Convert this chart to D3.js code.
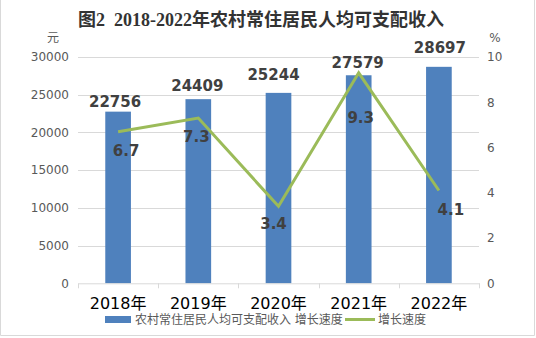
<!DOCTYPE html>
<html>
<head>
<meta charset="utf-8">
<script src="https://cdn.jsdelivr.net/npm/d3@7/dist/d3.min.js"></script>
<style>
  html, body { margin: 0; padding: 0; background: #fff; }
  svg { display: block; }
</style>
</head>
<body>
<svg id="chart" width="536" height="338"></svg>
<script>
// Data
const years = ["2018年", "2019年", "2020年", "2021年", "2022年"];
const income = [22756, 24409, 25244, 27579, 28697];
const growth = [6.7, 7.3, 3.4, 9.3, 4.1];
const leftTicks = [0, 5000, 10000, 15000, 20000, 25000, 30000];
const rightTicks = [0, 2, 4, 6, 8, 10];

const title = "图2  2018-2022年农村常住居民人均可支配收入";
const seriesNames = ["农村常住居民人均可支配收入 增长速度", "增长速度"];

// Layout
const W = 536, H = 338;
const plot = { left: 78, right: 479, top: 57, bottom: 283.3 };
const barColor = "#4f81bd", lineColor = "#9bbb59";
const labelColor = "#404040", axisColor = "#595959", gridColor = "#d9d9d9";
const baseFont = "'DejaVu Sans', 'Noto Sans CJK SC', sans-serif";

const svg = d3.select("#chart");

// chart frame
svg.append("path")
  .attr("d", `M0.5,-1 V335.5 H534.5 V-1`)
  .attr("fill", "none").attr("stroke", gridColor).attr("stroke-width", 1);

const x = d3.scaleBand().domain(years).range([plot.left, plot.right]).paddingInner(0).paddingOuter(0);
const yL = d3.scaleLinear().domain([0, 30000]).range([plot.bottom, plot.top]);
const yR = d3.scaleLinear().domain([0, 10]).range([plot.bottom, plot.top]);

// title
svg.append("text")
  .attr("x", 261).attr("y", 26)
  .attr("text-anchor", "middle")
  .attr("font-family", "'Liberation Serif', 'Noto Sans CJK SC', serif")
  .attr("font-weight", "bold").attr("font-size", 18)
  .attr("fill", "#333")
  .attr("xml:space", "preserve")
  .style("white-space", "pre")
  .text(title);

// gridlines
svg.append("g").selectAll("line").data(leftTicks.slice(1)).join("line")
  .attr("x1", plot.left).attr("x2", plot.right)
  .attr("y1", d => Math.round(yL(d)) + 0.5).attr("y2", d => Math.round(yL(d)) + 0.5)
  .attr("stroke", gridColor).attr("stroke-width", 1);

// left axis
const gL = svg.append("g").attr("transform", `translate(${plot.left - 9},0)`)
  .call(d3.axisLeft(yL).tickValues(leftTicks).tickSize(0).tickPadding(0).tickFormat(d3.format("d")));
gL.select(".domain").remove();
gL.selectAll("text").attr("font-family", baseFont).attr("font-size", 12).attr("fill", axisColor);

// right axis
const gR = svg.append("g").attr("transform", `translate(${plot.right + 8},0)`)
  .call(d3.axisRight(yR).tickValues(rightTicks).tickSize(0).tickPadding(0).tickFormat(d3.format("d")));
gR.select(".domain").remove();
gR.selectAll("text").attr("font-family", baseFont).attr("font-size", 12).attr("fill", axisColor);

// unit labels
svg.append("text").attr("x", 53).attr("y", 42).attr("text-anchor", "middle")
  .attr("font-family", baseFont).attr("font-size", 12).attr("fill", axisColor).text("元");
svg.append("text").attr("x", 495).attr("y", 42).attr("text-anchor", "middle")
  .attr("font-family", baseFont).attr("font-size", 12).attr("fill", axisColor).text("%");

// bars
const barW = x.bandwidth() * 0.32;
svg.append("g").selectAll("rect").data(income).join("rect")
  .attr("x", (d, i) => x(years[i]) + (x.bandwidth() - barW) / 2)
  .attr("width", barW)
  .attr("y", d => yL(d))
  .attr("height", d => yL(0) - yL(d))
  .attr("fill", barColor);

// bottom axis
const gX = svg.append("g").attr("transform", `translate(0,${plot.bottom})`)
  .call(d3.axisBottom(x).tickSize(0).tickPadding(0));
gX.select(".domain").attr("stroke", gridColor);
gX.selectAll("text").attr("font-family", baseFont).attr("font-size", 16).attr("fill", "#000")
  .attr("dy", 0).attr("y", 26);
// category boundary ticks
gX.append("g").selectAll("line").data(d3.range(years.length + 1)).join("line")
  .attr("x1", i => Math.round(plot.left + i * x.step()) + 0.5)
  .attr("x2", i => Math.round(plot.left + i * x.step()) + 0.5)
  .attr("y1", 0).attr("y2", 5)
  .attr("stroke", gridColor);

// growth line
const cx = i => x(years[i]) + x.bandwidth() / 2;
const line = d3.line().x((d, i) => cx(i)).y(d => yR(d));
svg.append("path").datum(growth)
  .attr("d", line)
  .attr("fill", "none").attr("stroke", lineColor).attr("stroke-width", 3)
  .attr("stroke-linejoin", "miter");

// value labels on bars
const barLabelOffset = [[-3, -5], [-1, -8], [-5, -13], [-1, -7], [1, -14]];
svg.append("g").selectAll("text").data(income).join("text")
  .attr("x", (d, i) => cx(i) + barLabelOffset[i][0])
  .attr("y", (d, i) => yL(d) + barLabelOffset[i][1])
  .attr("text-anchor", "middle")
  .attr("font-family", baseFont).attr("font-weight", "bold").attr("font-size", 15)
  .attr("fill", labelColor)
  .text(d => d);

// value labels on line
const lineLabelOffset = [[8, 24], [-2, 24], [-5, 23], [2, 50], [12, 24]];
svg.append("g").selectAll("text").data(growth).join("text")
  .attr("x", (d, i) => cx(i) + lineLabelOffset[i][0])
  .attr("y", (d, i) => yR(d) + lineLabelOffset[i][1])
  .attr("text-anchor", "middle")
  .attr("font-family", baseFont).attr("font-weight", "bold").attr("font-size", 15)
  .attr("fill", labelColor)
  .text(d => d3.format(".1f")(d));

// legend
const lg = svg.append("g");
lg.append("rect").attr("x", 105).attr("y", 316).attr("width", 26).attr("height", 7).attr("fill", barColor);
lg.append("text").attr("x", 135).attr("y", 324)
  .attr("font-family", baseFont).attr("font-size", 12).attr("fill", axisColor).text(seriesNames[0]);
lg.append("line").attr("x1", 345).attr("x2", 375).attr("y1", 319.5).attr("y2", 319.5)
  .attr("stroke", lineColor).attr("stroke-width", 3);
lg.append("text").attr("x", 378).attr("y", 324)
  .attr("font-family", baseFont).attr("font-size", 12).attr("fill", axisColor).text(seriesNames[1]);
</script>
</body>
</html>
